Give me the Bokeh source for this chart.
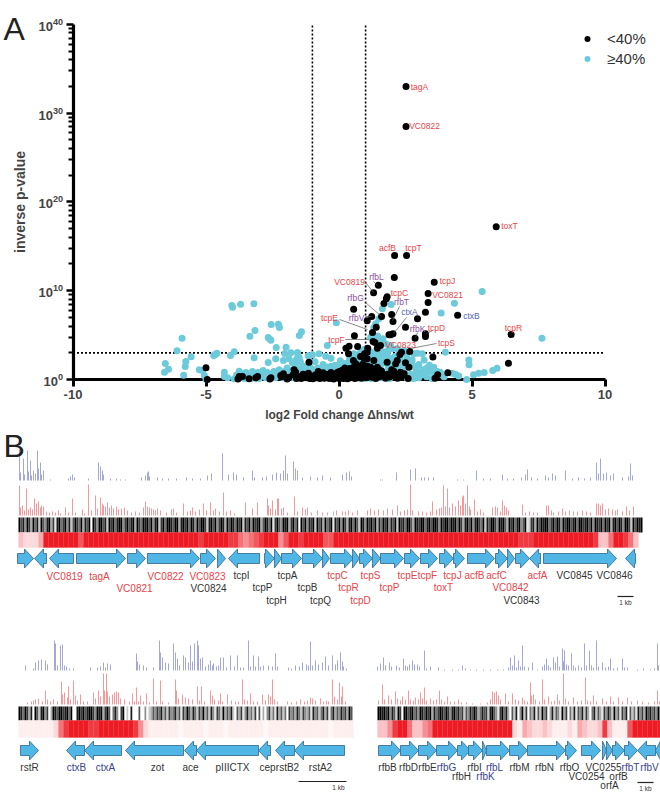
from bokeh.plotting import figure
from bokeh.layouts import column
from bokeh.models import Range1d, FixedTicker, LogTickFormatter, Legend, LegendItem
from bokeh.core.properties import value
from bokeh.embed import file_html
from bokeh.resources import INLINE

FONT = value("Liberation Sans")

# --- Panel A values: (log2 fold change, log10 inverse p-value)
below_40 = [(2.52,33.0),(2.52,28.5),(5.91,17.2),(2.09,13.96),(2.54,13.96),(2.08,11.5),(3.58,10.96),(1.48,10.6),(1.30,9.76),
 (3.35,9.68),(1.81,9.31),(1.78,9.08),(3.35,8.67),(1.69,8.56),(0.55,7.92),(1.23,7.09),(1.60,7.09),(1.98,7.32),(3.25,7.58),
 (4.46,7.24),(2.95,6.83),(1.06,6.61),(2.03,6.53),(2.5,5.89),(1.40,5.89),(1.26,5.29),(2.03,5.14),(1.94,5.03),(1.88,5.03),
 (3.25,5.14),(3.25,4.84),(0.58,4.92),(2.86,4.65),(1.28,4.28),(1.35,4.17),(0.38,3.75),(0.26,3.53),(0.70,3.72),(1.56,3.83),
 (1.44,3.53),(1.08,3.53),(2.66,3.15),(2.35,3.08),(2.29,2.82),(0.36,2.89),(3.53,2.52),(1.06,3.08),(0.96,2.89),(0.81,2.59),
 (0.54,2.14),(0.63,1.76),(0.94,2.40),(1.06,2.33),(2.19,2.14),(2.5,1.88),(1.81,1.95),(2.13,1.76),(-1.13,1.95),(2.63,1.39),
 (1.31,2.14),(1.44,1.39),(1.19,1.39),(4.09,0.75),(3.71,0.53),(3.61,0.15),(2.06,0.94),(2.31,0.83),(6.47,5.07),(6.37,1.84),
 (-5.0,1.31),(-3.75,.34),(-3.63,.34),(-3.38,.08),(-3.13,.19),(-3.06,.34),(-2.56,.19),(-2.19,.45),(-2.09,.64),(-2.15,.3),
 (-1.69,1.1),(-1.63,.83),(-1.72,.55),(-4.95,0.0),(-1.5,.3),(-1.42,.1),(-1.3,.45),(-1.25,.2),(-1.15,.7),(-1.05,.35),(-.98,.08),
 (-.9,.5),(-.85,.2),(-.78,.9),(-.72,.1),(-.65,.42),(-.6,.75),(-.55,.15),(-.48,.3),(-.42,.55),(-.36,.1),(-.3,.8),(-.26,.3),
 (-.2,.05),(-.15,.55),(-.1,.28),(-.05,.82),(0,.12),(.04,.48),(.08,.25),(.12,1.05),(.16,.1),(.2,.62),(.24,.32),(.28,.9),
 (.32,.08),(.36,.5),(.4,1.25),(.44,.2),(.48,.72),(.52,.38),(.56,1.4),(.6,.1),(.64,.95),(.68,.5),(.72,.2),(.76,1.35),(.8,.68),
 (.84,.15),(.88,1.7),(.92,.4),(.96,1.1),(1.0,.8),(1.04,.2),(1.08,1.5),(1.12,.55),(1.18,.9),(1.24,.25),(1.3,.6),(1.38,.1),
 (1.45,.7),(1.52,.3),(1.6,.95),(1.68,.42),(1.75,.15),(1.82,.6),(1.9,.28),(1.98,1.1),(2.1,.4),(2.2,.15),(2.35,.3),(2.45,.65),
 (2.6,.1),(.1,.6),(.3,.3),(.5,.95),(.7,.75),(.9,1.3),(.55,.55),(.35,.75),(.15,.35),(-.02,.4),(-.22,.6),
 (-3.8,.05),(-2.6,.05),(-1.95,.05),(-1.88,.25),(-1.6,.1),(-1.35,.6),(-1.1,.1),(-.8,.5),(-.68,.25),(-.5,.6),(-.33,.45),(-.12,.65),
 (.02,.9),(.18,.8),(.22,1.3),(.33,1.1),(.46,1.1),(.6,.7),(.7,1.15),(.78,.45),(.85,.95),(.98,1.55),(1.1,1.1),(1.22,.7),(1.35,1.05),(1.5,1.1)]

above_40 = [(-4.03,8.33),(-4.0,8.15),(-3.7,8.48),(-3.2,8.52),(-2.55,6.19),(-2.28,6.23),(-2.24,5.86),(-3.16,5.52),(-3.35,4.88),
 (-2.66,4.73),(-2.6,4.54),(-2.56,4.43),(-1.41,5.37),(-1.49,4.95),(-5.9,4.65),(-6.09,3.23),(-5.56,2.55),(-5.76,2.03),(-5.78,1.46),
 (-6.53,1.8),(-6.41,1.16),(-6.56,.83),(-5.84,.49),(-5.25,1.09),(-5.13,1.01),(-5.06,.45),(-5.0,.04),(-4.71,2.7),(-4.65,2.82),
 (-4.59,2.97),(-3.94,3.12),(-4.08,2.7),(-3.19,2.44),(-2.36,3.6),(-1.99,3.64),(-2.04,2.93),(-1.81,3.0),(-1.56,3.04),(-2.38,2.33),
 (-2.09,2.14),(-1.88,2.33),(-2.66,1.91),(-1.56,2.5),(-1.63,2.14),(-1.5,2.5),(-1.16,2.67),(-.75,2.89),(-.5,2.63),(-.44,3.83),
 (-.1,6.38),(-4.31,.83),(-4.19,.19),(-4.31,.34),(-3.75,.94),(-3.69,.64),(-3.94,.08),
 (5.38,9.91),(4.34,8.6),(3.84,7.5),(1.63,7.96),(1.96,8.45),(1.5,6.83),(1.31,5.89),(1.38,6.27),(4.0,3.08),(1.19,4.77),(1.31,4.58),
 (1.56,4.39),(1.75,4.02),(1.94,3.83),(2.0,3.45),(2.19,3.45),(2.44,3.27),(1.5,3.27),(1.81,2.89),(2.81,2.89),(2.94,2.97),(3.13,2.89),
 (.81,3.08),(.56,2.89),(3.56,1.39),(3.81,.83),(4.88,2.21),(4.89,1.65),(4.38,.56),(5.06,.53),(5.25,.71),(5.46,.79),(5.78,1.01),
 (5.94,1.28),(7.63,4.65),(4.8,0.0),(4.5,.4),(4.25,.7),(3.2,2.2),(3.3,1.3),(3.45,.9),(3.1,.5),(3.0,1.7),(2.9,1.1),(2.75,2.2),(2.7,.6),
 (2.55,2.5),(2.4,1.6),(2.3,2.3),(2.2,1.0),(2.1,2.6),(2.0,1.8),(1.9,2.4),(1.85,1.3),(1.7,3.1),(1.7,1.9),(1.6,2.5),(1.55,1.5),(1.45,2.9),
 (1.35,2.4),(1.25,1.8),(1.2,3.1),(1.1,2.6),(1.0,2.0),(.9,2.2),(.8,1.6),(.7,2.2),(.65,1.2),(.45,1.5),(.4,2.3),(.3,1.3),(.2,1.0),
 (.1,1.4),(0,1.0),(-.1,.7),(-.2,1.2),(-.3,1.5),(-.4,.6),(-.5,1.1),(-.6,1.7),(-.7,.6),(-.8,1.3),(-.9,2.0),(-.95,1.1),(-1.0,.6),(-1.1,1.4),
 (-1.2,1.0),(-1.25,.5),(-1.35,1.5),(-1.4,.8),(-1.45,2.0),(-1.5,1.2),(-1.55,.5),(-1.65,1.5),(-1.75,1.9),(-1.8,1.0),(-1.85,.4),(-1.95,1.3),
 (-2.05,.9),(-2.1,.2),(-2.25,1.1),(-2.3,.5),(-2.45,.9),(-2.5,.3),(-2.7,.8),(-2.75,.2),(-2.85,1.0),(-2.95,.4),(-3.05,.8),(-3.1,.1),
 (-3.25,.9),(-3.4,.5),(-3.5,.8),(-3.55,.1),(-3.2,.3),(-.35,.2),(.95,.1),(1.4,.4),(1.9,.1),(2.25,.5),(2.8,.1),(3.0,.2),(3.3,.3),(3.5,.1),
 (-1.0,2.8),(-.3,2.4),(.05,2.1),(.6,2.7),(.95,3.4),(1.15,2.0),(1.65,4.6),(1.45,4.9),(1.85,3.3),(2.25,2.9),(2.6,2.2),(2.45,.9),
 (-3.85,.5),(-3.6,.3),(-3.3,.1),(-3.0,.1),(-2.9,.7),(-2.6,.6),(-2.4,.2),(-2.2,.7),(-2.0,.4),(-1.9,.9),(-1.7,.2),(-1.6,1.0),(-1.45,.4),
 (-1.3,.9),(-1.15,1.2),(-1.05,.2),(-.85,1.0),(-.65,1.0),(-.45,1.4),(-.25,.9),(-.15,1.6),(.05,1.7),(.25,1.8),(.5,1.9),(.55,1.4),(.75,1.9),
 (.9,1.7),(1.05,1.6),(1.2,2.4),(1.3,2.8),(1.4,1.9),(1.5,2.0),(1.65,2.2),(1.75,2.7),(1.95,1.5),(2.05,2.1),(2.15,1.3),(2.3,1.9),(2.5,1.3),(2.65,1.7),
 (2.8,1.5),(2.85,.5),(3.0,.8),(3.15,1.1),(3.25,.7),(3.4,1.6),(3.6,.4),(3.7,.9),(3.95,.3),(1.6,.2),(1.75,.6),(1.2,.1),(2.55,.2),(2.0,.45)]

decades = [0, 10, 20, 30, 40]
fold_ticks = [-10, -5, 0, 5, 10]
minor_offsets = [3.01, 4.77, 6.02, 6.99, 7.78, 8.45, 9.03, 9.54]
cut_fold = [-1, 1]
cut_exp = 3

# gene names in volcano: (name, page x, page y)
red_names = [("tagA",419,86),("VC0822",424,125),("toxT",509,225),("acfB",387,247),("tcpT",413,247),("VC0819",349,281),("tcpJ",447,280),
 ("tcpC",399,292),("VC0821",447,294),("tcpE",329,317),("tcpD",436,327),("tcpR",513,327),("tcpF",336,339),("tcpS",446,342),("VC0823",400,344)]
purple_names = [("rfbL",376,276),("rfbG",355,297),("rfbT",401,301),("rfbV",356,317),("rfbK",417,328)]
blue_names = [("ctxA",409,311),("ctxB",471,315)]
leaders = [(365,282,373,292),(373,281,377,285),(365,302,381,316),(399,306,392,320),(406,317,393,333),(339,319,367,329),(365,316,371,316),
 (345,339,368,339),(436,343,410,348),(417,332,415,337),(432,330,426,333)]

# --- Panel B values: genes (start, end, strand)
genes_top = [(17,33,1),(34,46,-1),(49,73,-1),(76,125,1),(127,145,1),(147,199,1),(200,215,1),(217,225,1),(228,259,-1),(264,274,1),(274,281,1),
 (281,301,1),(302,322,1),(322,329,1),(330,353,1),(352,359,1),(359,372,1),(372,380,1),(380,403,1),(404,419,1),(420,437,1),(439,453,1),
 (453,464,1),(467,494,1),(495,507,1),(507,514,1),(515,529,1),(529,540,-1),(543,616,1),(625,635,-1)]
genes_left = [(20,38,1),(66,84,-1),(84,121,-1),(125,183,-1),(184,196,-1),(196,258,-1),(258,270,-1),(275,294,-1),(294,344,-1)]
genes_right = [(378,400,1),(400,418,1),(418,436,1),(436,457,1),(457,470,1),(468,482,1),(482,486,1),(486,509,1),(509,527,1),(527,565,1),
 (565,576,1),(581,600,1),(602,606,1),(606,612,1),(612,624,1),(624,637,1),(637,655,-1),(655,660,-1)]

gene_names_red = [("VC0819",64,576),("tagA",99,576),("VC0822",165,576),("VC0823",207,576),("tcpC",337,575),("tcpS",370,575),("tcpE",407,575),
 ("tcpF",427,575),("tcpJ",452,575),("acfB",474,575),("acfC",496,575),("acfA",537,575),("VC0821",134,588),("tcpR",348,587),("tcpP",389,587),
 ("toxT",443,587),("VC0842",510,587),("tcpD",360,600)]
gene_names_dark = [("tcpI",241,575),("tcpA",287,575),("VC0845",574,575),("VC0846",614,575),("VC0824",208,588),("tcpP",262,587),("tcpB",307,587),
 ("tcpH",276,600),("tcpQ",320,600),("VC0843",521,600),
 ("rstR",29,767),("zot",157,767),("ace",190,767),("pIIICTX",232,767),("cep",267,767),("rstB2",287,767),("rstA2",320,767),
 ("rfbB",387,767),("rfbD",408,767),("rfbE",427,767),("rfbI",474,767),("rfbM",519,767),("rfbN",544,767),("rfbO",569,767),("VC0255",603,767),
 ("rfbH",461,776),("VC0254",586,776),("orfB",618,776),("orfA",609,785)]
gene_names_navy = [("ctxB",76,767),("ctxA",105,767),("rfbG",446,767),("rfbL",494,767),("rfbT",630,767),("rfbV",649,767),("rfbK",485,776)]

# coverage peaks (position, height)
blue_top = [(19,31),(20,8),(23,22),(24,6),(27,30),(28,9),(30,20),(31,5),(33,10),(35,7),(37,30),(38,12),(40,18),(41,6),(43,10),(50,1),(68,2),(70,4),
 (72,6),(74,3),(88,2),(98,18),(100,14),(102,10),(103,6),(110,2),(116,2),(120,1),(125,1),(141,3),(145,5),(147,8),(148,9),(149,4),(157,3),(162,2),
 (168,2),(176,2),(186,3),(192,2),(200,2),(207,5),(211,7),(222,27),(228,6),(233,8),(236,6),(243,3),(252,10),(254,3),(262,3),(266,4),(272,6),(276,8),
 (280,7),(283,10),(285,25),(287,7),(293,19),(295,12),(297,10),(302,3),(310,4),(317,3),(322,5),(330,3),(342,6),(346,8),(349,9),(351,4),(380,1),(382,1),
 (396,8),(410,11),(415,12),(421,3),(424,3),(428,3),(433,3),(457,1),(463,1),(476,10),(483,2),(490,2),(502,6),(507,2),(513,2),(521,3),(525,6),(527,11),
 (531,3),(537,2),(545,5),(548,3),(552,7),(555,5),(565,10),(572,2),(578,3),(584,2),(590,3),(596,18),(598,7),(600,22),(603,7),(606,8),(610,5),(613,7),
 (622,3),(628,4),(630,17),(632,5)]
red_top = [(19,30),(20,8),(22,10),(24,5),(26,27),(28,6),(30,8),(32,6),(34,17),(36,12),(38,14),(40,8),(41,10),(43,9),(46,4),(49,3),(52,4),(55,3),(58,5),(60,2),
 (65,8),(68,3),(72,17),(75,3),(82,6),(84,2),(88,31),(91,5),(95,20),(97,7),(100,18),(102,12),(103,10),(105,9),(107,13),(109,8),(111,10),(113,7),(116,9),(118,6),
 (121,7),(124,8),(127,5),(131,3),(135,4),(139,3),(143,8),(145,14),(147,9),(149,8),(151,7),(153,6),(155,5),(157,7),(160,5),(166,3),(171,6),(173,7),(176,3),
 (183,12),(187,4),(190,5),(192,8),(195,4),(199,6),(203,12),(206,5),(210,13),(213,5),(215,7),(219,4),(223,23),(226,4),(230,5),(234,2),(245,13),(252,7),(257,13),
 (267,17),(268,10),(270,7),(272,15),(275,6),(277,17),(278,17),(281,7),(283,8),(287,3),(294,19),(297,4),(302,8),(305,6),(307,8),(311,3),(317,5),(322,3),(327,3),
 (333,4),(336,5),(342,4),(345,4),(348,5),(352,3),(357,5),(367,5),(370,7),(374,5),(378,6),(383,5),(387,7),(392,6),(397,10),(400,4),(404,5),(407,6),(410,31),(412,5),
 (418,4),(422,4),(426,3),(430,4),(432,14),(436,6),(439,7),(441,8),(443,30),(445,9),(447,27),(449,8),(452,12),(455,9),(458,15),(460,10),(462,19),(463,20),(465,12),
 (467,30),(469,9),(470,6),(474,16),(477,4),(480,6),(483,3),(492,8),(495,9),(497,8),(500,4),(502,15),(504,10),(506,8),(508,5),(522,11),(525,3),(529,4),(533,3),(537,3),
 (546,10),(548,10),(551,5),(553,3),(558,4),(562,7),(565,4),(569,5),(573,4),(577,4),(582,5),(586,4),(590,3),(596,12),(598,12),(600,10),(602,12),(605,6),(608,7),
 (612,6),(615,5),(617,6),(622,4),(626,9),(629,5),(633,9)]
blue_left = [(25,5),(33,2),(35,8),(38,10),(41,11),(45,10),(47,6),(54,30),(55,27),(57,5),(60,25),(62,26),(64,5),(66,4),(69,2),(73,2),(90,3),(97,3),(100,4),(103,8),(105,3),
 (107,7),(110,6),(136,17),(137,9),(139,6),(143,5),(146,3),(153,3),(159,30),(160,18),(162,13),(165,8),(168,7),(173,27),(175,18),(177,12),(179,5),(183,15),(185,13),(188,8),
 (190,25),(192,9),(194,27),(197,30),(198,25),(200,12),(202,13),(205,4),(208,6),(210,10),(212,5),(213,7),(216,4),(218,5),(220,13),(223,13),(226,3),(230,15),(234,4),(237,15),
 (240,3),(243,3),(248,30),(250,4),(253,15),(255,4),(258,14),(260,4),(263,5),(268,5),(272,4),(275,17),(277,4),(288,3),(291,2),(295,5),(299,4),(302,8),(306,6),(308,5),
 (310,29),(312,5),(315,10),(318,6),(322,8),(325,14),(328,5),(332,15),(335,6),(337,10),(340,18),(342,9),(343,4),(346,2)]
red_left = [(27,2),(31,3),(33,4),(35,5),(38,6),(42,3),(45,14),(47,5),(50,3),(53,5),(57,3),(61,23),(62,10),(64,12),(67,7),(68,18),(70,5),(73,24),(75,9),(77,4),(80,10),(83,3),
 (87,3),(93,12),(95,6),(98,14),(100,8),(103,31),(104,14),(106,31),(107,13),(109,8),(112,10),(114,12),(116,13),(118,12),(120,6),(124,5),(129,3),(132,11),(134,3),(136,17),
 (138,3),(140,9),(143,3),(146,11),(149,2),(153,26),(156,3),(160,24),(162,3),(168,2),(175,25),(176,14),(178,6),(182,10),(185,7),(188,6),(192,5),(197,18),(199,4),(201,18),
 (204,3),(210,14),(212,9),(214,5),(218,4),(220,11),(222,3),(227,10),(231,4),(235,3),(238,3),(242,25),(244,5),(247,4),(250,11),(253,3),(257,3),(262,10),(265,4),(268,10),
 (270,8),(272,25),(274,5),(277,3),(287,3),(291,2),(296,3),(300,5),(304,3),(307,4),(310,7),(312,6),(315,4),(320,6),(323,3),(326,4),(328,3),(332,25),(334,8),(337,5),
 (339,22),(341,8),(342,18),(345,3)]
blue_right = [(377,4),(380,7),(383,13),(385,5),(389,8),(391,4),(396,5),(399,3),(403,12),(405,5),(407,4),(409,6),(412,10),(414,6),(417,6),(419,4),(424,20),(426,2),(430,4),(438,3),(444,1),
 (452,1),(458,1),(462,5),(465,2),(470,1),(476,1),(483,1),(490,1),(497,1),(503,1),(508,3),(510,13),(512,5),(514,15),(516,3),(518,10),(520,4),(522,25),(524,4),(528,3),(532,8),(537,1),(542,4),
 (544,6),(546,12),(548,5),(550,3),(553,13),(555,8),(557,14),(559,4),(562,22),(563,9),(564,20),(566,6),(568,5),(571,17),(573,5),(575,3),(578,5),(581,3),(584,27),(586,5),(589,20),(591,5),(593,3),
 (596,30),(598,4),(602,8),(605,3),(608,4),(610,12),(613,2),(617,3),(622,12),(624,3),(627,3),(637,1),(643,2),(650,1),(654,2),(657,27),(658,5)]
red_right = [(378,4),(382,20),(384,5),(388,9),(391,5),(395,13),(397,6),(400,4),(402,8),(405,5),(408,14),(410,5),(413,4),(415,7),(418,5),(420,12),(422,6),(424,17),(426,4),(430,6),(433,4),(436,5),
 (439,14),(441,5),(444,3),(447,8),(450,3),(454,3),(458,5),(461,2),(466,2),(472,1),(480,1),(487,2),(490,5),(492,13),(494,12),(496,13),(498,9),(500,5),(505,11),(508,3),(512,11),(515,5),(518,4),
 (522,7),(524,4),(527,3),(530,22),(531,9),(533,10),(535,5),(539,3),(542,25),(544,5),(548,8),(551,3),(554,4),(557,10),(559,4),(563,31),(565,6),(568,3),(573,7),(577,3),(581,4),(585,27),(587,4),
 (590,3),(593,9),(596,3),(602,6),(606,3),(610,8),(613,3),(618,7),(622,3),(627,7),(631,3),(637,4),(642,3),(648,2),(654,3),(657,14),(659,3)]

# density heat (0 pale .. 9 full red), one value per bin
heat_top = [3,2,2,2,4,9,9,9,9,9,9,9,7,9,9,9,9,9,9,9,9,9,9,9,9,9,9,9,9,9,9,9,9,9,9,9,8,9,9,9,9,9,8,8,6,5,6,7,8,9,9,9,5,7,9,9,8,9,9,9,9,7,7,9,9,9,9,9,
 9,9,9,9,9,9,9,9,9,9,9,9,9,9,9,9,9,9,9,9,9,9,9,9,9,9,9,9,9,9,9,9,8,8,8,9,9,9,9,9,9,9,9,9,9,9,9,8,3,3,6,9,9,8,6,3]
heat_left = [1,1,1,1,1,1,1,2,6,8,9,9,9,9,8,8,9,9,9,9,9,9,9,8,5,2,1,1,1,1,1,1,0,1,1,1,1,0,1,1,1,0,1,1,1,1,1,1,1,0,1,1,1,1,1,1,1,1,1,1,1,1,0,1,1,1,1]
heat_right = [3,3,5,8,9,9,6,3,3,5,6,9,9,9,9,9,9,9,9,9,9,9,9,9,9,9,9,2,1,4,3,2,2,3,2,1,1,1,2,1,4,3,2,2,3,8,3,1,1,1,7,9,9,9,9,9,9]

# site barcode (0 black .. 9 white), one value per bin
bar_top = [0,3,1,5,0,2,6,0,4,1,7,0,3,5,1,0,6,2,8,1,0,4,2,0,5,1,7,3,0,2,4,0,6,1,3,0,9,0,2,5,0,0,3,1,7,0,2,0,4,1,0,0,5,2,0,3,1,0,6,0,2,4,0,1,0,3,0,5,1,0,
 7,2,0,4,0,0,1,3,0,0,6,1,0,2,0,4,0,1,5,0,3,0,0,2,7,1,0,3,0,5,2,0,1,6,0,3,0,1,4,0,2,0,7,1,3,0,5,0,2,1,0,6,3,0,1,4,0,8,2,0,3,5,0,1,0,6,2,0,4,1,9,0,3,0,5,
 1,2,0,7,0,3,1,6,0,4,2,0,8,1,3,0,5,0,2,6,1,0,4,0,3,7,0,1,5,0,2,0,3,0,6,1,4,0,2,0,5,1,3,0,7,0,2,1,4,0,0,3,6,0,1,2,0,0,4,1,0,3,0,0,1,5,0,2,0,0,3,0,1,0,4,
 0,2,6,1,0,3,0,5,1,0,2,4,0,7,1,3,0,0,2,5,0,1,0,3,6,0,2,0,4,1,0,5,3,0,8,7,2,1,6,0,3,0,1,0,0,4,2,0,3,0,1,5,0,2,0,0,3,1,0,4,0,0,2,1,0,3,0,5,0,1,2,0,
 4,0,2,0,6,1,0,3,0,1,5,0,0,2,7,0,3,0,1,0]
bar_left = [0,1,4,0,2,6,1,9,0,3,7,1,0,5,2,9,6,0,1,3,0,0,2,1,0,4,0,9,9,1,0,2,0,3,1,0,0,2,5,0,1,0,6,2,0,3,9,4,1,5,9,2,0,9,7,9,1,9,9,9,3,9,9,5,9,7,6,3,5,2,
 4,1,6,3,7,2,5,4,1,6,3,8,2,5,0,3,6,1,4,7,2,5,0,6,3,7,1,5,8,2,4,7,0,6,3,5,1,7,9,3,6,2,8,5,1,6,4,7,2,9,3,9,6,9,5,2,7,4,8,1,6,3,7,4,9,2,5,3,6,1,4,7,2,5,6,
 3,8,1,5,3,7,4,1,6,2,8,4,1,6,3,5,1,4,2,6,0,3]
bar_right = [0,0,1,0,2,0,5,1,3,7,0,2,9,0,0,3,1,0,4,2,5,0,1,3,0,2,0,6,1,4,2,0,1,3,0,2,5,1,0,3,1,4,2,7,3,5,1,3,0,2,6,4,1,3,2,7,1,0,3,5,8,2,0,4,1,6,9,3,7,1,
 9,5,0,7,2,9,4,6,1,8,3,7,0,5,2,9,6,1,7,3,5,8,0,6,2,9,4,7,1,8,3,5,1,7,2,6,9,4,1,7,3,6,8,2,5,1,4,7,0,6,3,8,2,5,1,9,3,7,4,8,1,5,2,6,0,3,1,4,2,5,0]

# --- Panel A
fx = lambda px: (px - 338.5) / 26.6
py_val = lambda py: 10 ** ((379 - py) / 8.88)

pA = figure(width=660, height=425, output_backend="svg", toolbar_location=None, y_axis_type="log",
            x_range=Range1d(fx(0), fx(660)), y_range=Range1d(py_val(425), py_val(0)),
            min_border=0, min_border_left=0, min_border_right=0, min_border_top=0, min_border_bottom=0)
pA.outline_line_color = None
pA.grid.visible = False

xa = pA.xaxis[0]
xa.fixed_location = 1
xa.bounds = (-10, 10)
xa.ticker = FixedTicker(ticks=fold_ticks)
xa.major_label_overrides = {t: str(t) for t in fold_ticks}
xa.minor_tick_line_color = None
xa.axis_line_width = 3.2
xa.major_tick_line_width = 3
xa.major_tick_out = 7
xa.major_tick_in = 0
xa.major_label_text_font = "Liberation Sans"
xa.major_label_text_font_style = "bold"
xa.major_label_text_font_size = "13px"
xa.major_label_standoff = 3
xa.axis_label = "log2 Fold change \u0394hns/wt"
xa.axis_label_text_font = "Liberation Sans"
xa.axis_label_text_font_style = "bold"
xa.axis_label_text_font_size = "12px"
xa.axis_label_standoff = 6

ya = pA.yaxis[0]
ya.fixed_location = -10
ya.bounds = (1, 1e40)
ya.ticker = FixedTicker(ticks=[10.0 ** d for d in decades],
                        minor_ticks=[10.0 ** (d + m) for d in decades[:-1] for m in minor_offsets])
ya.formatter = LogTickFormatter()
ya.axis_line_width = 3.2
ya.major_tick_line_width = 2.5
ya.major_tick_out = 7
ya.major_tick_in = 0
ya.minor_tick_line_width = 2.2
ya.minor_tick_out = 5
ya.minor_tick_in = 0
ya.major_label_text_font = "Liberation Sans"
ya.major_label_text_font_style = "bold"
ya.major_label_text_font_size = "13px"
ya.major_label_standoff = 3
ya.axis_label = "inverse p-value"
ya.axis_label_text_font = "Liberation Sans"
ya.axis_label_text_font_style = "bold"
ya.axis_label_text_font_size = "14px"
ya.axis_label_standoff = 8

for f in cut_fold:
    pA.line([f, f], [1, 1e40], line_color="black", line_width=1.6, line_dash="2 2")
pA.line([-10, 10], [10 ** cut_exp] * 2, line_color="black", line_width=1.6, line_dash="2 2")

cyan_r = pA.scatter([a for a, _ in above_40], [10.0 ** b for _, b in above_40], size=7, color="#6ccadb", line_color=None, level="annotation")
black_r = pA.scatter([a for a, _ in below_40], [10.0 ** b for _, b in below_40], size=7, color="black", line_color=None, level="annotation")


def names_A(rows, color):
    pA.text([fx(r[1]) for r in rows], [py_val(r[2]) for r in rows], text=[r[0] for r in rows], text_color=color,
            text_font=FONT, text_font_size="8.5px", text_align="center", text_baseline="middle", level="overlay")


names_A(red_names, "#e8444a")
names_A(purple_names, "#8a4f9e")
names_A(blue_names, "#5566b0")
pA.segment([fx(r[0]) for r in leaders], [py_val(r[1]) for r in leaders], [fx(r[2]) for r in leaders], [py_val(r[3]) for r in leaders],
           line_color="#555555", line_width=0.7, level="overlay")
pA.text([fx(3)], [py_val(28)], text=["A"], text_font=FONT, text_font_size="32px", text_color="#222222", text_baseline="alphabetic")

legend = Legend(items=[LegendItem(label="<40%", renderers=[black_r]), LegendItem(label="\u226540%", renderers=[cyan_r])],
                location=(577, 357), padding=0, margin=0, spacing=0, border_line_color=None, background_fill_alpha=0,
                glyph_width=20, glyph_height=15, label_standoff=10, label_height=20,
                label_text_font="Liberation Sans", label_text_font_size="15px", label_text_color="#333333")
pA.add_layout(legend)

# --- Panel B: x in track units, y in layout units
pB = figure(width=660, height=367, output_backend="svg", toolbar_location=None,
            x_range=Range1d(0, 660), y_range=Range1d(792, 425),
            x_axis_type=None, y_axis_type=None, min_border=0, min_border_left=0, min_border_right=0, min_border_top=0, min_border_bottom=0)
pB.outline_line_color = None
pB.grid.visible = False


def stems(peaks, base, color):
    xs = [a for a, _ in peaks]
    pB.segment(xs, [base] * len(xs), xs, [base - h for _, h in peaks], line_color=color, line_width=1, line_alpha=0.55)


def heat(vals, x0, step, top, bottom):
    colors = []
    for v in vals:
        t = max((v / 9) ** 1.2, 0.035)
        colors.append("#%02x%02x%02x" % (round(255 + (237 - 255) * t), round(255 + (28 - 255) * t), round(255 + (36 - 255) * t)))
    lefts = [x0 + step * i for i in range(len(vals))]
    pB.quad(left=lefts, right=[a + step for a in lefts], top=[top] * len(vals), bottom=[bottom] * len(vals), fill_color=colors, line_color=colors, line_width=0.3)


def barcode(vals, x0, step, top, bottom):
    colors = ["#%02x%02x%02x" % ((round(v * 255 / 9),) * 3) for v in vals]
    lefts = [x0 + step * i for i in range(len(vals))]
    pB.quad(left=lefts, right=[a + step for a in lefts], top=[top] * len(vals), bottom=[bottom] * len(vals), fill_color=colors, line_color=None)


def arrows(genes, mid):
    xs, ys = [], []
    for s, e, d in genes:
        head = min(9, e - s)
        if d > 0:
            n = e - head
            xs.append([s, n, n, e, n, n, s])
        else:
            n = s + head
            xs.append([e, n, n, s, n, n, e])
        ys.append([mid - 5, mid - 5, mid - 9.5, mid, mid + 9.5, mid + 5, mid + 5])
    pB.patches(xs, ys, fill_color="#50b6e6", line_color="#3d7096", line_width=0.9)


stems(blue_top, 480, "#5a60b4")
stems(red_top, 515, "#e6454c")
barcode(bar_top, 18, 2, 517, 532)
heat(heat_top, 18, 5, 532, 547)
arrows(genes_top, 558)

stems(blue_left, 670, "#5a60b4")
stems(red_left, 704, "#e6454c")
barcode(bar_left, 18, 2, 706, 720)
heat(heat_left, 18, 5, 720, 737)
arrows(genes_left, 750)

stems(blue_right, 670, "#5a60b4")
stems(red_right, 704, "#e6454c")
barcode(bar_right, 377, 2, 706, 720)
heat(heat_right, 377, 5, 720, 737)
arrows(genes_right, 750)


def names_B(rows, color):
    pB.text([r[1] for r in rows], [r[2] for r in rows], text=[r[0] for r in rows], text_color=color, text_font=FONT,
            text_font_size="10px", text_align="center", text_baseline="middle")


names_B(gene_names_red, "#e8444a")
names_B(gene_names_dark, "#333333")
names_B(gene_names_navy, "#3d3f8f")

for x0, x1, y in [(617, 633, 596), (298, 346, 781), (637, 653, 782)]:
    pB.line([x0, x1], [y, y], line_color="#222222", line_width=1.2)
    pB.text([x1 - 8 if x1 != 346 else 338], [y + 6], text=["1 kb"], text_font=FONT, text_font_size="6.5px", text_align="center", text_baseline="middle", text_color="#333333")

pB.text([3], [445], text=["B"], text_font=FONT, text_font_size="32px", text_color="#222222", text_baseline="alphabetic")

page = column(pA, pB, spacing=0, margin=(0, 0, 0, 0))
open("out.html", "w").write(file_html(page, INLINE))
